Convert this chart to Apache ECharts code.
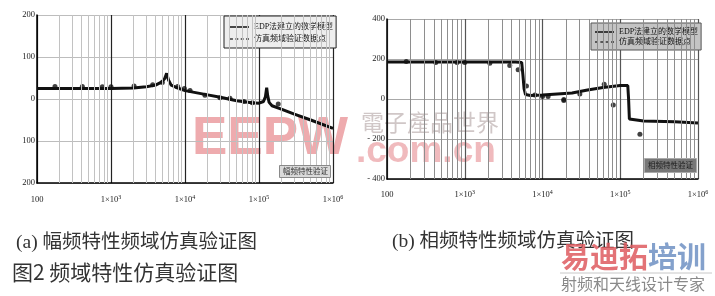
<!DOCTYPE html>
<html>
<head>
<meta charset="utf-8">
<script src="https://cdn.jsdelivr.net/npm/echarts@6/dist/echarts.min.js"></script>
<style>
html,body{margin:0;padding:0;background:#fff;}
#c{width:715px;height:296px;}
</style>
</head>
<body>
<div id="c"></div>
<script>
// ---- data ----
const seriesNames = ['EDP法建立的数学模型', '仿真频域验证数据点'];

// (a) magnitude, dB
const magCurveF = [100, 1000, 2000, 3000, 4000, 4800, 5300, 5650, 6000, 6500, 7500, 10000, 18600, 30000, 50000, 80000, 100000, 115000, 122000, 127000, 131000, 137000, 150000, 200000, 300000, 500000, 1000000];
const magCurveV = [25, 25, 26, 29, 33, 40, 48, 61, 45, 33, 28, 20, 11, 4, -4, -9, -10, -6, 5, 27, 8, -8, -16, -24, -36, -50, -70];
const magPtF = [175, 410, 764, 1000, 2050, 3660, 4940, 7950, 9800, 11700, 18600, 29700, 40500, 62600, 81300, 182000];
const magPtV = [30, 30, 29, 29, 31, 34, 39, 30, 25, 20, 9, 3, 2, -6, -9, -12];

// (b) phase, degrees
const phCurveF = [100, 4500, 5000, 5400, 5600, 5800, 6050, 7000, 10000, 24000, 38000, 60000, 100000, 125000, 128000, 131000, 135000, 200000, 500000, 1000000];
const phCurveV = [185, 185, 184, 183, 120, 50, 22, 18, 20, 30, 45, 58, 67, 67, 0, -100, -108, -110, -114, -120];
const phPtF = [177, 424, 796, 1000, 2100, 3790, 4860, 6220, 7960, 10000, 11800, 18800, 18800, 30200, 62200, 81300, 179000];
const phPtV = [187, 182, 182, 182, 179, 167, 146, 65, 20, 12, 12, -2, -8, 25, 74, -30, -176];

// tick labels
const freqTickValues = [100, 1000, 10000, 100000, 1000000];
const freqTickLabels = ['100', '1×10{s|3}', '1×10{s|4}', '1×10{s|5}', '1×10{s|6}'];
const magTickValues = [-200, -100, 0, 100, 200];
const magTickLabels = ['200', '100', '0', '100', '200'];
const phTickValues = [-400, -200, 0, 200, 400];
const phTickLabels = ['- 400', '- 200', '0', '200', '400'];
const minorFreqs = [200,300,400,500,600,700,800,900,2000,3000,4000,5000,6000,7000,8000,9000,
  20000,30000,40000,50000,60000,70000,80000,90000,200000,300000,400000,500000,600000,700000,800000,900000];

const captionA = '(a) 幅频特性频域仿真验证图';
const captionB = '(b) 相频特性频域仿真验证图';
const figTitle = '图2 频域特性仿真验证图';
const boxA = '幅频特性验证';
const boxB = '相频特性验证';

// ---- build ----
const pairs = (f, v) => f.map((x, i) => [x, v[i]]);
const SERIF = "'Liberation Serif','DejaVu Serif','Noto Sans CJK SC',serif";
const CJK = "'Liberation Serif','Noto Sans CJK SC',sans-serif";

function xAxis(gi, splitColor, margin) {
  return {
    type: 'log', logBase: 10, min: 100, max: 1000000, gridIndex: gi, splitNumber: 4,
    axisLine: {show: true, onZero: false, lineStyle: {color: '#000', width: 1.5}},
    axisTick: {show: false},
    splitLine: {show: true, lineStyle: {color: splitColor, width: 1.2}},
    axisLabel: {
      margin, fontFamily: SERIF, fontSize: 8.5, color: '#222', lineHeight: 12,
      formatter: v => { const i = freqTickValues.findIndex(t => Math.abs(t - v) / t < 1e-6); return i >= 0 ? freqTickLabels[i] : ''; },
      rich: {s: {fontSize: 6, verticalAlign: 'top', lineHeight: 7, fontFamily: SERIF, color: '#222'}}
    }
  };
}
function yAxis(gi, min, max, interval, vals, labs, gridColor) {
  return {
    type: 'value', gridIndex: gi, min, max, interval,
    axisLine: {show: true, onZero: false, lineStyle: {color: '#000', width: 1.5}},
    axisTick: {show: false},
    splitLine: {show: true, lineStyle: {color: gridColor, width: 1}},
    axisLabel: {
      margin: 2, fontFamily: SERIF, fontSize: 8.5, color: '#222',
      formatter: v => { const i = vals.indexOf(v); return i >= 0 ? labs[i] : ''; }
    }
  };
}
function legend(left, top, bg, border, pad, lh) {
  return {
    left, top, orient: 'vertical', padding: pad, itemGap: 0, itemWidth: 19, itemHeight: 1.5,
    backgroundColor: bg, borderColor: border, borderWidth: 1, symbolKeepAspect: false,
    textStyle: {fontFamily: CJK, fontSize: 8, color: '#111', lineHeight: lh},
    data: [
      {name: seriesNames[0], icon: 'path://M0,0H20V1H0Z'},
      {name: seriesNames[1], icon: 'path://M0,0H3V1H0ZM5.5,0H8.5V1H5.5ZM11,0H14V1H11ZM16.5,0H19.5V1H16.5Z'}
    ],
    selectedMode: false
  };
}
function gridLines(xi, yi, color) {
  return {
    type: 'line', xAxisIndex: xi, yAxisIndex: yi, data: [], z: 1, silent: true,
    markLine: {
      silent: true, symbol: ['none', 'none'], animation: false, label: {show: false},
      lineStyle: {type: 'solid', color, width: 1},
      data: minorFreqs.map(f => ({xAxis: f}))
    }
  };
}

const option = {
  animation: false,
  backgroundColor: '#fff',
  grid: [
    {left: 37, top: 15, width: 296, height: 168},
    {left: 387, top: 19, width: 311, height: 160}
  ],
  xAxis: [xAxis(0, '#222', 11), xAxis(1, '#555', 10)],
  yAxis: [
    yAxis(0, -200, 200, 100, magTickValues, magTickLabels, '#bdbdbd'),
    yAxis(1, -400, 400, 200, phTickValues, phTickLabels, '#a8a8a8')
  ],
  legend: [
    legend(224, 16, '#eeeeee', '#222', [5, 3, 3, 6], 12),
    legend(591, 23, '#c4c4c4', '#555', [4, 3, 3, 4], 10)
  ],
  title: [
    {text: boxA, left: 279, top: 165, padding: [3, 3, 2, 4], backgroundColor: '#dadada', borderColor: '#8a8a8a', borderWidth: 1,
      textStyle: {fontFamily: CJK, fontSize: 7.5, fontWeight: 'normal', color: '#333'}},
    {text: boxB, left: 644, top: 158, padding: [4, 4, 3, 4], backgroundColor: '#777777', borderColor: '#aaa', borderWidth: 1,
      textStyle: {fontFamily: CJK, fontSize: 7.5, fontWeight: 'normal', color: '#1a1a1a'}},
    {text: captionA, left: 16, top: 233, padding: 0, textStyle: {fontFamily: CJK, fontSize: 19.5, fontWeight: 'normal', color: '#333'}},
    {text: captionB, left: 392, top: 232, padding: 0, textStyle: {fontFamily: CJK, fontSize: 19.5, fontWeight: 'normal', color: '#333'}},
    {text: figTitle, left: 12, top: 262, padding: 0, textStyle: {fontFamily: "'Noto Sans CJK SC',sans-serif", fontSize: 21, fontWeight: 'normal', color: '#333'}}
  ],
  graphic: [
    {type: 'text', left: 192, top: 113, z: 0, silent: true,
      style: {text: 'EEPW', fontFamily: "'Liberation Sans',Arial,sans-serif", fontSize: 53, fontWeight: 'bold', fill: 'rgba(228,120,125,0.62)'}},
    {type: 'text', left: 361, top: 111, z: 0, silent: true,
      style: {text: '電子產品世界', fontFamily: "'Noto Sans CJK TC',sans-serif", fontSize: 23, fill: 'rgba(150,130,130,0.45)'}},
    {type: 'text', left: 356, top: 133, z: 0, silent: true,
      style: {text: '.com.cn', fontFamily: "'Liberation Sans',Arial,sans-serif", fontSize: 37, fontWeight: 'bold', fill: 'rgba(228,130,135,0.55)'}},
    {type: 'text', left: 561, top: 242, z: 10, silent: true,
      style: {text: '{r|易迪拓}{b|培训}', rich: {
        r: {fontFamily: "'Noto Sans CJK SC',sans-serif", fontSize: 29, fontWeight: 'bold', fill: 'rgba(222,90,95,0.85)'},
        b: {fontFamily: "'Noto Sans CJK SC',sans-serif", fontSize: 29, fontWeight: 'bold', fill: 'rgba(110,145,195,0.85)'}
      }}},
    {type: 'line', z: 10, silent: true, shape: {x1: 560, y1: 273, x2: 712, y2: 273}, style: {stroke: '#c8c8c8', lineWidth: 1}},
    {type: 'text', left: 561, top: 276, z: 10, silent: true,
      style: {text: '射频和天线设计专家', fontFamily: "'Noto Sans CJK SC',sans-serif", fontSize: 16, fill: '#8a8a8a'}}
  ],
  series: [
    gridLines(0, 0, '#c2c2c2'),
    gridLines(1, 1, '#8e8e8e'),
    {name: seriesNames[0], type: 'line', xAxisIndex: 0, yAxisIndex: 0, z: 3, data: pairs(magCurveF, magCurveV),
      symbol: 'none', lineStyle: {color: '#111', width: 3}, itemStyle: {color: '#111'}},
    {name: seriesNames[1], type: 'scatter', xAxisIndex: 0, yAxisIndex: 0, z: 4, data: pairs(magPtF, magPtV),
      symbolSize: 5, itemStyle: {color: '#111'}},
    {name: seriesNames[0], type: 'line', xAxisIndex: 1, yAxisIndex: 1, z: 3, data: pairs(phCurveF, phCurveV),
      symbol: 'none', lineStyle: {color: '#111', width: 3}, itemStyle: {color: '#111'}},
    {name: seriesNames[1], type: 'scatter', xAxisIndex: 1, yAxisIndex: 1, z: 4, data: pairs(phPtF, phPtV),
      symbolSize: 5, itemStyle: {color: '#111'}}
  ]
};
const chart = echarts.init(document.getElementById('c'), null, {renderer: 'canvas'});
chart.setOption(option);
</script>
</body>
</html>
